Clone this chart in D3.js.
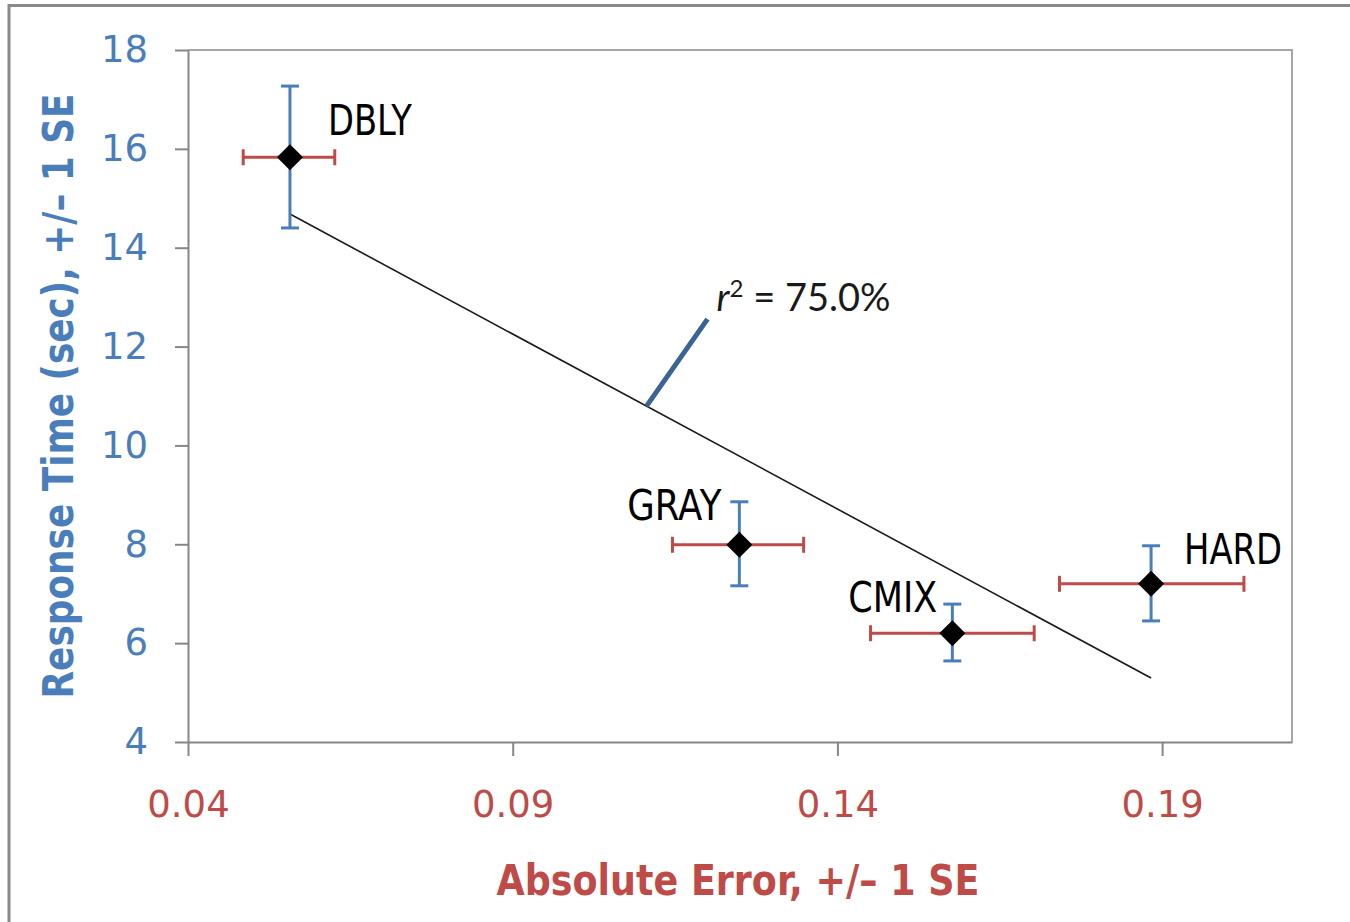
<!DOCTYPE html>
<html>
<head>
<meta charset="utf-8">
<script src="https://cdn.jsdelivr.net/npm/d3@7"></script>
<style>
  html, body { margin: 0; padding: 0; background: #fff; }
  svg { display: block; }
</style>
</head>
<body>
<svg id="chart" width="1350" height="922"></svg>
<script>
// ---- data ----
const names   = ["DBLY", "GRAY", "CMIX", "HARD"];
const absErr  = [0.0557, 0.1249, 0.1577, 0.1883];
const absErrLo = [0.0485, 0.1146, 0.1451, 0.1742];
const absErrHi = [0.0626, 0.1348, 0.1703, 0.2026];
const respTime   = [15.83, 7.99, 6.20, 7.20];
const respTimeLo = [14.40, 7.16, 5.64, 6.45];
const respTimeHi = [17.27, 8.86, 6.79, 7.97];
const xTicks = [0.04, 0.09, 0.14, 0.19];
const yTicks = [4, 6, 8, 10, 12, 14, 16, 18];
const rSquaredText = "75.0%";
const xTitle = "Absolute Error, +/\u2013 1 SE";
const yTitle = "Response Time (sec), +/\u2013 1 SE";

// ---- layout ----
const plot = { left: 188, right: 1292, top: 50, bottom: 742 };
const blue = "#4a7ebb", red = "#be4b48", axisCol = "#868686";
const labelLayout = {
  DBLY: { dx: 38, dy: -22, anchor: "start", w: 84 },
  GRAY: { dx: -18, dy: -25, anchor: "end", w: 94 },
  CMIX: { dx: -15, dy: -21, anchor: "end", w: 89 },
  HARD: { dx: 33, dy: -20, anchor: "start", w: 98 }
};

const svg = d3.select("#chart");
const x = d3.scaleLinear().domain([0.04, 0.21]).range([plot.left, plot.right]);
const y = d3.scaleLinear().domain([4, 18]).range([plot.bottom, plot.top]);

// outer frame
svg.append("path")
  .attr("d", `M9,930 V5.5 H1360`)
  .attr("fill", "none").attr("stroke", "#8a8a8a").attr("stroke-width", 3);

// plot border (top/right)
svg.append("path")
  .attr("d", `M${plot.left},${plot.top} H${plot.right} V${plot.bottom}`)
  .attr("fill", "none").attr("stroke", "#a6a6a6").attr("stroke-width", 2);

// axes
const yAxis = d3.axisLeft(y).tickValues(yTicks).tickFormat(d3.format("d"))
  .tickSizeInner(13).tickSizeOuter(0).tickPadding(27);
const gy = svg.append("g").attr("transform", `translate(${plot.left},0)`).call(yAxis);
gy.select(".domain").attr("stroke", axisCol).attr("stroke-width", 2);
gy.selectAll(".tick line").attr("stroke", axisCol).attr("stroke-width", 2);
gy.selectAll(".tick text").attr("fill", blue)
  .style("font-family", "DejaVu Sans").style("font-size", "37px");

const xAxis = d3.axisBottom(x).tickValues(xTicks).tickFormat(d3.format(".2f"))
  .tickSizeInner(14).tickSizeOuter(0).tickPadding(35);
const gx = svg.append("g").attr("transform", `translate(0,${plot.bottom})`).call(xAxis);
gx.select(".domain").attr("stroke", axisCol).attr("stroke-width", 2);
gx.selectAll(".tick line").attr("stroke", axisCol).attr("stroke-width", 2);
gx.selectAll(".tick text").attr("fill", red)
  .style("font-family", "DejaVu Sans").style("font-size", "37px");

// axis titles
svg.append("text")
  .attr("x", (plot.left + plot.right) / 2 - 2).attr("y", 895)
  .attr("text-anchor", "middle").attr("fill", red)
  .style("font-family", "DejaVu Sans Condensed, DejaVu Sans").style("font-weight", "bold").style("font-size", "42px")
  .attr("textLength", 483).attr("lengthAdjust", "spacingAndGlyphs")
  .text(xTitle);

svg.append("text")
  .attr("transform", `translate(73,${(plot.top + plot.bottom) / 2}) rotate(-90)`)
  .attr("text-anchor", "middle").attr("fill", blue)
  .style("font-family", "DejaVu Sans Condensed, DejaVu Sans").style("font-weight", "bold").style("font-size", "42px")
  .attr("textLength", 605).attr("lengthAdjust", "spacingAndGlyphs")
  .text(yTitle);

// trendline (least squares through the points)
const n = absErr.length;
const mx = d3.mean(absErr), my = d3.mean(respTime);
let sxy = 0, sxx = 0;
for (let i = 0; i < n; i++) { sxy += (absErr[i] - mx) * (respTime[i] - my); sxx += (absErr[i] - mx) ** 2; }
const slope = sxy / sxx, intercept = my - slope * mx;
const x0 = d3.min(absErr), x1 = d3.max(absErr);
svg.append("line")
  .attr("x1", x(x0)).attr("y1", y(intercept + slope * x0))
  .attr("x2", x(x1)).attr("y2", y(intercept + slope * x1))
  .attr("stroke", "#1a1a1a").attr("stroke-width", 1.6);

// r² leader & label
const leadX = 0.1106;
const lx = x(leadX), ly = y(intercept + slope * leadX);
svg.append("line")
  .attr("x1", lx).attr("y1", ly).attr("x2", lx + 61).attr("y2", ly - 87)
  .attr("stroke", "#3a6396").attr("stroke-width", 5);
const rt = svg.append("text")
  .attr("x", lx + 70).attr("y", ly - 95)
  .attr("fill", "#1a1a1a")
  .style("font-family", "Lato, DejaVu Sans").style("font-size", "38px");
rt.append("tspan").style("font-style", "italic").text("r");
rt.append("tspan").attr("dy", -14).style("font-size", "24px").text("2");
rt.append("tspan").attr("dy", 14).text(" = " + rSquaredText);

// error bars
const cap = 9;
for (let i = 0; i < n; i++) {
  const cx = x(absErr[i]), cy = y(respTime[i]);
  const g = svg.append("g");
  // vertical (blue)
  g.append("line").attr("x1", cx).attr("x2", cx).attr("y1", y(respTimeLo[i])).attr("y2", y(respTimeHi[i]))
    .attr("stroke", blue).attr("stroke-width", 3);
  [respTimeLo[i], respTimeHi[i]].forEach(v =>
    g.append("line").attr("x1", cx - cap).attr("x2", cx + cap).attr("y1", y(v)).attr("y2", y(v))
      .attr("stroke", blue).attr("stroke-width", 3));
  // horizontal (red)
  g.append("line").attr("y1", cy).attr("y2", cy).attr("x1", x(absErrLo[i])).attr("x2", x(absErrHi[i]))
    .attr("stroke", red).attr("stroke-width", 3);
  [absErrLo[i], absErrHi[i]].forEach(v =>
    g.append("line").attr("y1", cy - 8).attr("y2", cy + 8).attr("x1", x(v)).attr("x2", x(v))
      .attr("stroke", red).attr("stroke-width", 3));
}

// markers
svg.selectAll("path.pt").data(d3.range(n)).join("path")
  .attr("class", "pt")
  .attr("transform", i => `translate(${x(absErr[i])},${y(respTime[i])}) rotate(45)`)
  .attr("d", d3.symbol(d3.symbolSquare, 340))
  .attr("fill", "#000");

// point labels
svg.selectAll("text.lbl").data(d3.range(n)).join("text")
  .attr("class", "lbl")
  .attr("x", i => x(absErr[i]) + labelLayout[names[i]].dx)
  .attr("y", i => y(respTime[i]) + labelLayout[names[i]].dy)
  .attr("text-anchor", i => labelLayout[names[i]].anchor)
  .attr("textLength", i => labelLayout[names[i]].w)
  .attr("lengthAdjust", "spacingAndGlyphs")
  .attr("fill", "#000")
  .style("font-family", "DejaVu Sans").style("font-size", "42px")
  .text(i => names[i]);
</script>
</body>
</html>
